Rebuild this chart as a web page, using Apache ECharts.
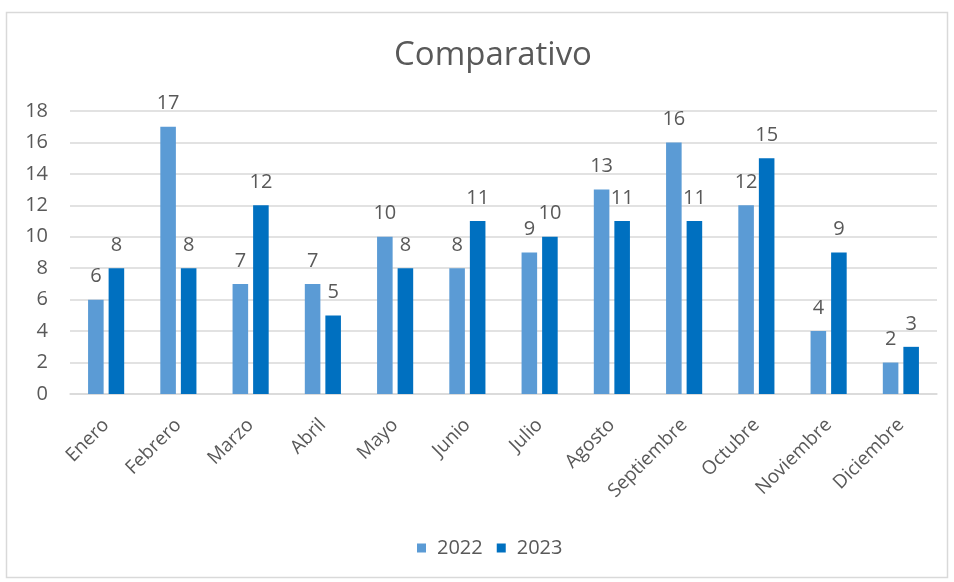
<!DOCTYPE html>
<html><head><meta charset="utf-8">
<script src="https://cdn.jsdelivr.net/npm/echarts@6/dist/echarts.min.js"></script>
<style>html,body{margin:0;padding:0;background:#fff}#c{width:954px;height:582px}</style>
</head><body><div id="c"></div>
<script>
const categories = ['Enero','Febrero','Marzo','Abril','Mayo','Junio','Julio','Agosto','Septiembre','Octubre','Noviembre','Diciembre'];
const values2022 = [6,17,7,7,10,8,9,13,16,12,4,2];
const values2023 = [8,8,12,5,8,11,10,11,11,15,9,3];
const yTicks = [0,2,4,6,8,10,12,14,16,18];

const FONT = '"Open Sans", sans-serif';
const TXT = '#595959';
const chart = echarts.init(document.getElementById('c'), null, {renderer:'canvas'});
chart.setOption({
  animation:false,
  textStyle:{fontFamily:FONT},
  graphic:[{type:'rect',shape:{x:6.5,y:12.5,width:941,height:565},style:{fill:'none',stroke:'#D9D9D9',lineWidth:1.5},silent:true}],
  title:{text:'Comparativo',left:389,top:34,textStyle:{fontFamily:FONT,fontSize:33,fontWeight:'normal',color:TXT}},
  legend:{bottom:19,left:412,itemWidth:9,itemHeight:9,itemGap:14,icon:'rect',
    textStyle:{fontFamily:FONT,fontSize:20,color:TXT,padding:[0,0,0,6]},data:['2022','2023']},
  grid:{left:70,right:17,top:111,bottom:188,containLabel:false},
  xAxis:{type:'category',data:categories,
    axisLine:{lineStyle:{color:'#D9D9D9',width:1.5}},axisTick:{show:false},
    axisLabel:{rotate:45,interval:0,fontFamily:FONT,fontSize:19,color:TXT,margin:28}},
  yAxis:{type:'value',min:yTicks[0],max:yTicks[yTicks.length-1],interval:2,
    axisLine:{show:false},axisTick:{show:false},
    splitLine:{lineStyle:{color:'#D9D9D9',width:1.5}},
    axisLabel:{fontFamily:FONT,fontSize:20,color:TXT,margin:22}},
  series:[
    {name:'2022',type:'bar',data:values2022,itemStyle:{color:'#5B9BD5'},
     barGap:'32%',barCategoryGap:'50%',
     label:{show:true,position:'top',distance:13,fontFamily:FONT,fontSize:20,color:TXT}},
    {name:'2023',type:'bar',data:values2023,itemStyle:{color:'#0070C0'},
     label:{show:true,position:'top',distance:13,fontFamily:FONT,fontSize:20,color:TXT}}
  ]
});
</script></body></html>
